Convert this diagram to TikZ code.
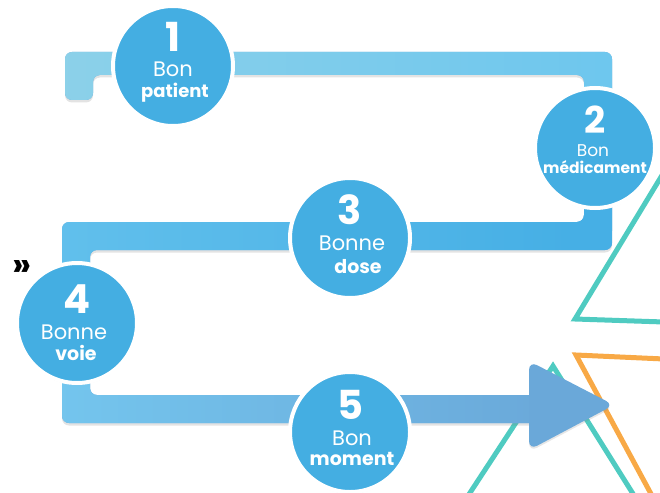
\documentclass[tikz,border=0pt]{standalone}
\usepackage{fontspec}
\setmainfont{Poppins}
\usetikzlibrary{shadows}
\definecolor{topL}{HTML}{8DD1E9}
\definecolor{topR}{HTML}{6CC6EE}
\definecolor{midL}{HTML}{62C0EC}
\definecolor{midR}{HTML}{46AFE5}
\definecolor{lowL}{HTML}{74C6EE}
\definecolor{lowR}{HTML}{6AA8D9}
\definecolor{disc}{HTML}{44AEE2}
\definecolor{arrowc}{HTML}{6AA8D9}
\definecolor{teal}{HTML}{4FCBC1}
\definecolor{orangec}{HTML}{F8A946}
\tikzset{
  stepdisc/.style={circle, fill=disc, draw=white, line width=4pt, minimum size=120pt, inner sep=0pt,
    drop shadow={shadow xshift=0pt, shadow yshift=-1.5pt, opacity=0.25}},
  numtxt/.style={text=white, font=\bfseries\fontsize{40}{40}\selectfont, anchor=base, inner sep=0pt},
  lighttxt/.style={text=white, font=\fontsize{21}{21}\selectfont, anchor=base, inner sep=0pt},
  boldtxt/.style={text=white, font=\bfseries\fontsize{19}{19}\selectfont, anchor=base, inner sep=0pt},
  outline/.style={line width=5pt, line join=miter},
}
\begin{document}
\begin{tikzpicture}[x=1pt,y=-1pt]
\useasboundingbox (0,0) rectangle (660,492);

% triangle outlines on the right edge
\begin{scope}
  \clip (0,0) rectangle (660,492);
  \draw[outline, teal] (664,172) -- (575,319) -- (664,322);
  \draw[outline, teal] (462,505) -- (553,366) -- (640,505);
  \draw[outline, orangec] (664,359) -- (576,355) -- (657,505);
\end{scope}

% snake-shaped track: shadow, then colour bands clipped to its outline
\def\trackpath{(65,52) -- (612,52) -- (612,250) -- (90,250) -- (90,395) -- (540,395)
  -- (540,423) -- (62,423) -- (62,222) -- (584,222) -- (584,75) -- (93,75)
  -- (93,100) -- (65,100) -- cycle}
\fill[rounded corners=7pt, lowR,
  drop shadow={shadow xshift=0pt, shadow yshift=-2.5pt, opacity=0.22}] \trackpath;
\begin{scope}
  \clip[rounded corners=7pt] \trackpath;
  \shade[left color=topL, right color=topR] (40,40) rectangle (640,160);
  \shade[top color=topR, bottom color=midR] (570,100) rectangle (640,230);
  \shade[left color=midL, right color=midR] (40,200) rectangle (570,270);
  \shade[top color=midR, bottom color=midR] (570,200) rectangle (640,270);
  \shade[top color=midL, bottom color=lowL] (40,270) rectangle (100,390);
  \shade[left color=lowL, right color=lowR] (40,390) rectangle (560,440);
\end{scope}

% arrow head at the end of the track
\fill[arrowc, rounded corners=9pt,
  drop shadow={shadow xshift=0pt, shadow yshift=-2pt, opacity=0.2}]
  (529,361) -- (614,405) -- (529,450) -- cycle;

% step discs
\node[stepdisc] (c1) at (173,66) {};
\node[stepdisc] (c2) at (595,148) {};
\node[stepdisc] (c3) at (350,238) {};
\node[stepdisc] (c4) at (77,323) {};
\node[stepdisc] (c5) at (350,432) {};

% disc labels
\node[numtxt] (n1) at (173,52) {1};
\node[lighttxt] (a1) at (173,77) {Bon};
\node[boldtxt, font=\bfseries\fontsize{18}{18}\selectfont] (b1) at (175,97) {patient};

\node[numtxt, font=\bfseries\fontsize{37}{37}\selectfont] (n2) at (595,133) {2};
\node[lighttxt, font=\fontsize{17}{17}\selectfont] (a2) at (593,156) {Bon};
\node[boldtxt, font=\bfseries\fontsize{15.5}{15.5}\selectfont] (b2) at (595,173) {médicament};

\node[numtxt] (n3) at (350,224) {3};
\node[lighttxt] (a3) at (352,250) {Bonne};
\node[boldtxt] (b3) at (358,273) {dose};

\node[numtxt] (n4) at (77,313) {4};
\node[lighttxt] (a4) at (74,339) {Bonne};
\node[boldtxt] (b4) at (76,360) {voie};

\node[numtxt] (n5) at (350,419) {5};
\node[lighttxt] (a5) at (352,445) {Bon};
\node[boldtxt] (b5) at (352,465) {moment};

% quotation mark at the left edge
\node[font=\bfseries\fontsize{34}{34}\selectfont, anchor=base, inner sep=0pt] (q) at (22,276) {»};
\end{tikzpicture}
\end{document}
